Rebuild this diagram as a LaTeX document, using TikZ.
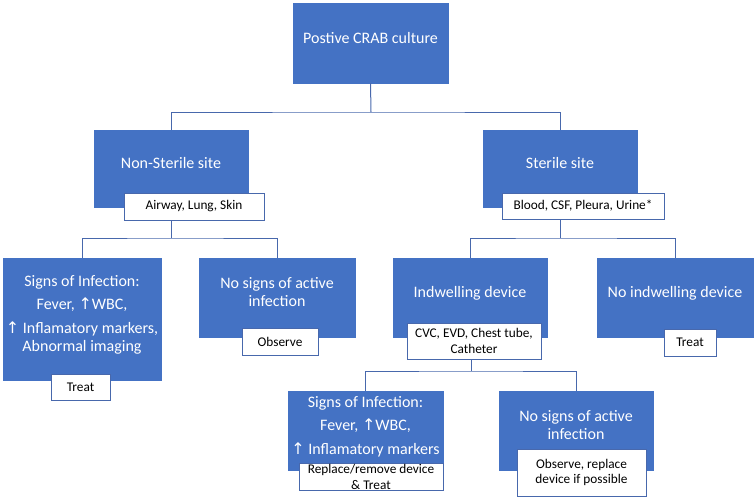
\documentclass[tikz,border=0pt]{standalone}
\usepackage{fontspec}
\setmainfont{Carlito}
\newfontfamily\arrowfont{DejaVu Sans}
\newcommand{\uparr}{{\arrowfont\char"2191}}
\usetikzlibrary{calc}

\definecolor{boxblue}{RGB}{68,114,196}
\definecolor{lineblue}{RGB}{72,104,172}

\tikzset{
  mainbox/.style={rectangle, fill=boxblue, draw=boxblue, text=white, align=center,
    font=\fontsize{16}{18.5}\selectfont, inner sep=2pt,
    execute at end node={\rule[-11pt]{0pt}{11pt}}},
  tagbox/.style={rectangle, fill=white, draw=lineblue, line width=0.9pt, text=black,
    align=center, font=\fontsize{13.3}{15.5}\selectfont, inner sep=1pt},
  link/.style={draw=lineblue, line width=1pt}
}

\begin{document}
\begin{tikzpicture}[x=1pt,y=-1pt]

\useasboundingbox (0,0) rectangle (755,499);

\node[mainbox, minimum width=155pt, minimum height=80pt] (culture) at (370.5,43) {Postive CRAB culture};

\node[mainbox, minimum width=154pt, minimum height=77pt] (nonsterile) at (171,168.5) {Non-Sterile site};
\node[mainbox, minimum width=154pt, minimum height=77pt] (sterile) at (560,168.5) {Sterile site};

\node[mainbox, minimum width=158pt, minimum height=122pt] (signsA) at (82,319) {Signs of Infection:\\[5pt]Fever, \uparr WBC,\\[5pt]\uparr\ Inflamatory markers,\\Abnormal imaging};
\node[mainbox, minimum width=156pt, minimum height=79pt] (nosignsA) at (277,297.5) {No signs of active\\infection};
\node[mainbox, minimum width=154pt, minimum height=79pt] (device) at (470,297.5) {Indwelling device};
\node[mainbox, minimum width=156pt, minimum height=79pt] (nodevice) at (675,297.5) {No indwelling device};

\node[mainbox, minimum width=155pt, minimum height=79pt] (signsB) at (365.5,430.5) {Signs of Infection:\\[5pt]Fever, \uparr WBC,\\[5pt]\uparr\ Inflamatory markers};
\node[mainbox, minimum width=154pt, minimum height=79pt] (nosignsB) at (576,430.5) {No signs of active\\infection};

\node[tagbox, minimum width=140pt, minimum height=27pt] (siteA) at (194,206.5) {Airway, Lung, Skin};
\node[tagbox, minimum width=162pt, minimum height=26pt] (siteB) at (583,206) {Blood, CSF, Pleura, Urine*};
\node[tagbox, minimum width=59pt, minimum height=26pt] (treatA) at (80.5,387) {Treat};
\node[tagbox, minimum width=76pt, minimum height=27pt] (observeA) at (280,341.5) {Observe};
\node[tagbox, minimum width=134pt, minimum height=36pt] (devices) at (474,341) {CVC, EVD, Chest tube,\\Catheter};
\node[tagbox, minimum width=52pt, minimum height=27pt] (treatB) at (690,342.5) {Treat};
\node[tagbox, minimum width=144pt, minimum height=26pt] (replace) at (371,477) {Replace/remove device\\\& Treat};
\node[tagbox, minimum width=129pt, minimum height=47pt] (observeB) at (581.5,472.5) {Observe, replace\\device if possible};

\coordinate (busA) at (371,112);
\coordinate (busB) at (171,238);
\coordinate (busC) at (560,238);
\coordinate (busD) at (471,371);

\draw[link] (culture.south) -- (busA);
\draw[link] (nonsterile.north) |- (busA) -| (sterile.north);

\draw[link] (siteA.south -| busB) -- (busB);
\draw[link] (signsA.north) |- (busB) -| (nosignsA.north);

\draw[link] (siteB.south -| busC) -- (busC);
\draw[link] (device.north) |- (busC) -| (nodevice.north);

\draw[link] (devices.south -| busD) -- (busD);
\draw[link] (signsB.north) |- (busD) -| (nosignsB.north);

\end{tikzpicture}
\end{document}
